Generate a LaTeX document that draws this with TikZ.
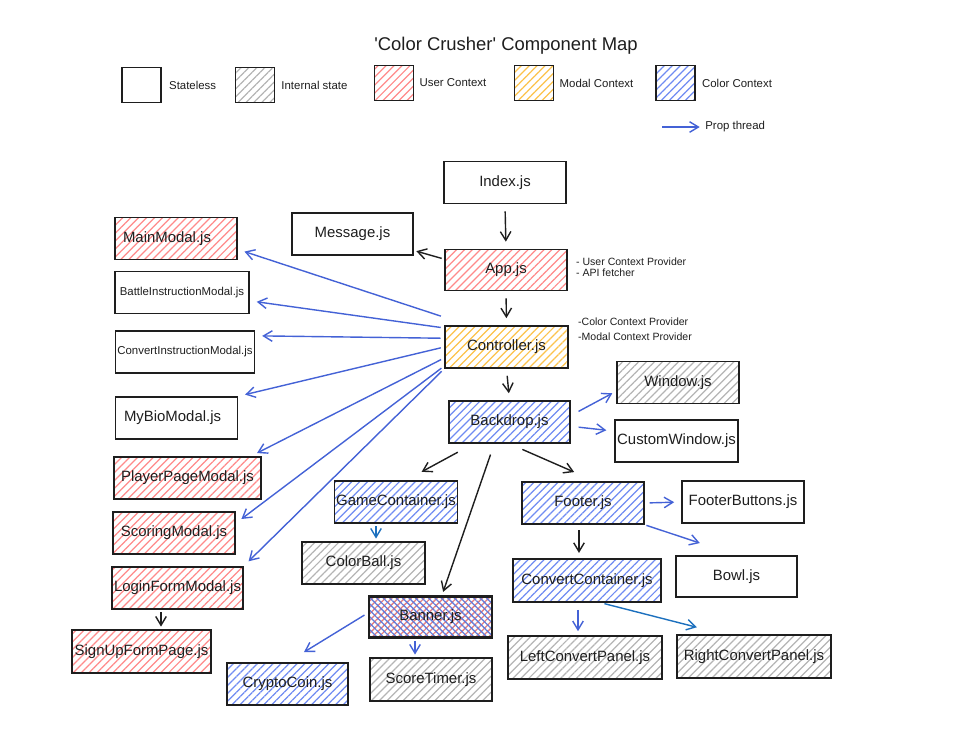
\documentclass[tikz,border=0pt]{standalone}
\usepackage{fontspec}
\setmainfont{Liberation Sans}
\usetikzlibrary{arrows.meta,positioning,patterns.meta}

\definecolor{inkblack}{HTML}{1E1E1E}
\definecolor{userred}{HTML}{FF8A8A}
\definecolor{modalgold}{HTML}{FCC24A}
\definecolor{ctxblue}{HTML}{6F8BF2}
\definecolor{stategrey}{HTML}{B4B4B4}
\definecolor{propblue}{HTML}{4462D6}
\definecolor{steelblue}{HTML}{1C70BE}

\begin{document}
\begin{tikzpicture}[
  x=0.02cm, y=-0.02cm,
  comp/.style={rectangle, draw=inkblack, line width=0.9pt, minimum width=2.44cm, minimum height=0.84cm, inner sep=1pt, font=\fontsize{8.5}{10}\selectfont, text=inkblack},
  hatch/.style={pattern={Lines[angle=45,distance=3.2pt,line width=0.7pt]}, pattern color=#1},
  stateless/.style={comp},
  internal/.style={comp, hatch=stategrey},
  userctx/.style={comp, hatch=userred},
  modalctx/.style={comp, hatch=modalgold},
  colorctx/.style={comp, hatch=ctxblue},
  mixctx/.style={comp, line width=1.4pt, preaction={pattern={Lines[angle=45,distance=2.6pt,line width=0.75pt]}, pattern color=userred!90!black}, pattern={Lines[angle=-45,distance=2.6pt,line width=0.75pt]}, pattern color=ctxblue!90!black},
  legbox/.style={minimum width=0.78cm, minimum height=0.7cm},
  legtxt/.style={font=\fontsize{6.5}{8}\selectfont, text=inkblack, inner sep=0pt},
  note/.style={font=\fontsize{6}{6.4}\selectfont, text=inkblack, align=left, inner sep=0pt, anchor=west},
  flow/.style={-{Straight Barb[length=5pt,width=6pt]}, line width=0.8pt, inkblack, shorten <=3pt, shorten >=3pt},
  prop/.style={flow, propblue, shorten <=2pt, shorten >=4pt},
  thread/.style={flow, steelblue},
  tight/.style={shorten <=1.5pt, shorten >=1.5pt}]
\useasboundingbox (0,0) rectangle (966,738);

% title and legend
\node[font=\fontsize{10.5}{12}\selectfont, text=inkblack] (title) at (506,46) {\textquotesingle Color Crusher\textquotesingle\ Component Map};
\node[stateless, legbox] (lgnone) at (141.5,85) {};
\node[legtxt, right=0.14cm of lgnone] (lgnonetxt) {Stateless};
\node[internal, legbox] (lgint) at (255,85) {};
\node[legtxt, right=0.12cm of lgint] (lginttxt) {Internal state};
\node[userctx, legbox] (lguser) at (394,83) {};
\node[legtxt, right=0.1cm of lguser] (lgusertxt) {User Context};
\node[modalctx, legbox] (lgmodal) at (534,83) {};
\node[legtxt, right=0.1cm of lgmodal] (lgmodaltxt) {Modal Context};
\node[colorctx, legbox] (lgcolor) at (675.5,83) {};
\node[legtxt, right=0.12cm of lgcolor] (lgcolortxt) {Color Context};
\coordinate (propstart) at (662,127);
\node[legtxt, anchor=west] (proplbl) at (705,127) {Prop thread};
\draw[prop, shorten <=0pt, shorten >=3pt] (propstart) -- (proplbl.west);

% spine
\node[stateless] (idx) at (505,182.5) {Index.js};
\node[stateless, minimum width=2.42cm] (msg) at (352.5,234) {Message.js};
\node[userctx, minimum height=0.82cm] (app) at (506,270) {App.js};
\node[modalctx, minimum width=2.46cm] (ctrl) at (506.5,347) {Controller.js};
\node[colorctx, minimum width=2.42cm] (backdrop) at (509.5,422) {Backdrop.js};
\node[note] (appnote) at ([xshift=0.16cm, yshift=0.05cm]app.east) {- User Context Provider\\- API fetcher};
\node[note, font=\fontsize{6}{8.5}\selectfont] (ctrlnote) at ([xshift=0.18cm, yshift=0.35cm]ctrl.east) {-Color Context Provider\\-Modal Context Provider};

% modals
\node[userctx, text width=2.12cm, align=left] (mainm) at (176,238.5) {MainModal.js};
\node[stateless, minimum width=2.68cm, font=\fontsize{6.5}{8}\selectfont] (battle) at (182,292.5) {BattleInstructionModal.js};
\node[stateless, minimum width=2.76cm, font=\fontsize{6.5}{8}\selectfont] (convi) at (185,352) {ConvertInstructionModal.js};
\node[stateless, text width=2.1cm, align=left] (mybio) at (176.5,418) {MyBioModal.js};
\node[userctx, minimum width=2.94cm] (ppage) at (187.5,478) {PlayerPageModal.js};
\node[userctx] (scoring) at (174,533) {ScoringModal.js};
\node[userctx, minimum width=2.54cm] (login) at (177.5,588) {LoginFormModal.js};
\node[userctx, minimum width=2.78cm, minimum height=0.86cm] (signup) at (141.5,651.5) {SignUpFormPage.js};

% game side
\node[internal] (window) at (678,382.5) {Window.js};
\node[stateless, minimum width=2.46cm] (cw) at (676.5,441) {CustomWindow.js};
\node[colorctx] (gc) at (396,502) {GameContainer.js};
\node[internal, minimum width=2.46cm] (cball) at (363.5,563) {ColorBall.js};
\node[mixctx, minimum width=2.46cm, minimum height=0.82cm] (banner) at (430.5,617) {Banner.js};
\node[colorctx, minimum width=2.42cm] (crypto) at (287.5,684) {CryptoCoin.js};
\node[internal, minimum height=0.86cm] (stimer) at (431,679.5) {ScoreTimer.js};
\node[colorctx] (footer) at (583,503) {Footer.js};
\node[stateless] (fbtn) at (743,502) {FooterButtons.js};
\node[colorctx, minimum width=2.96cm, minimum height=0.86cm] (convc) at (587,580.5) {ConvertContainer.js};
\node[stateless, minimum width=2.42cm, minimum height=0.82cm] (bowl) at (736.5,576.5) {Bowl.js};
\node[internal, minimum width=3.08cm, minimum height=0.86cm] (lpanel) at (585,657.5) {LeftConvertPanel.js};
\node[internal, minimum width=3.08cm, minimum height=0.86cm] (rpanel) at (754,656.5) {RightConvertPanel.js};

% connectors
\foreach \a/\b in {idx/app, app/ctrl, ctrl/backdrop} \draw[flow, shorten <=4pt, shorten >=4pt] (\a.south) -- (\b.north);
\draw[flow, tight] (app.170) -- (msg.-15);
\draw[prop] ([yshift=0.16cm]ctrl.north west) -- (mainm.-10);
\foreach \a/\b in {163/battle.-7, 172/convi.13, 180/mybio.north east, 190/ppage.19, 197/scoring.9, south west/login.north east} \draw[prop] (ctrl.\a) -- (\b);
\draw[prop, shorten <=5pt, shorten >=2.5pt] (backdrop.6) -- (window.188);
\draw[prop, shorten <=4.5pt, shorten >=4.5pt] (backdrop.-4) -- (cw.171);
\draw[flow, shorten <=10pt, shorten >=10pt] (backdrop.211) -- (gc.65);
\draw[flow, shorten <=8pt, shorten >=13pt] (backdrop.south) -- (footer.61);
\draw[flow, shorten <=6.5pt, shorten >=2.4pt] (backdrop.235) -- (banner.62);
\draw[thread, tight] ([xshift=-0.4cm]gc.south) -- ([xshift=-0.4cm]gc.south |- cball.north);
\draw[prop, tight] ([xshift=-0.31cm]banner.south) -- ([xshift=-0.31cm]banner.south |- stimer.north);
\draw[prop, shorten <=2.6pt, shorten >=11pt] (banner.176) -- (crypto.north);
\draw[flow, tight] ([xshift=-0.33cm]login.south) -- ([xshift=-0.33cm]login.south |- signup.north);
\draw[prop, shorten <=2.8pt, shorten >=4pt] (footer.east) -- (fbtn.west);
\draw[prop, shorten <=1pt, shorten >=22pt] (footer.south east) -- (bowl.north);
\draw[flow] ([xshift=-0.08cm]footer.south) -- ([xshift=-0.08cm]footer.south |- convc.north);
\draw[prop, shorten <=4pt, shorten >=2.3pt] ([xshift=-0.18cm]convc.south) -- ([xshift=-0.18cm]convc.south |- lpanel.north);
\draw[thread, shorten <=2pt, shorten >=16pt] ([xshift=0.28cm]convc.south) -- ([xshift=-0.6cm]rpanel.north);
\end{tikzpicture}
\end{document}
